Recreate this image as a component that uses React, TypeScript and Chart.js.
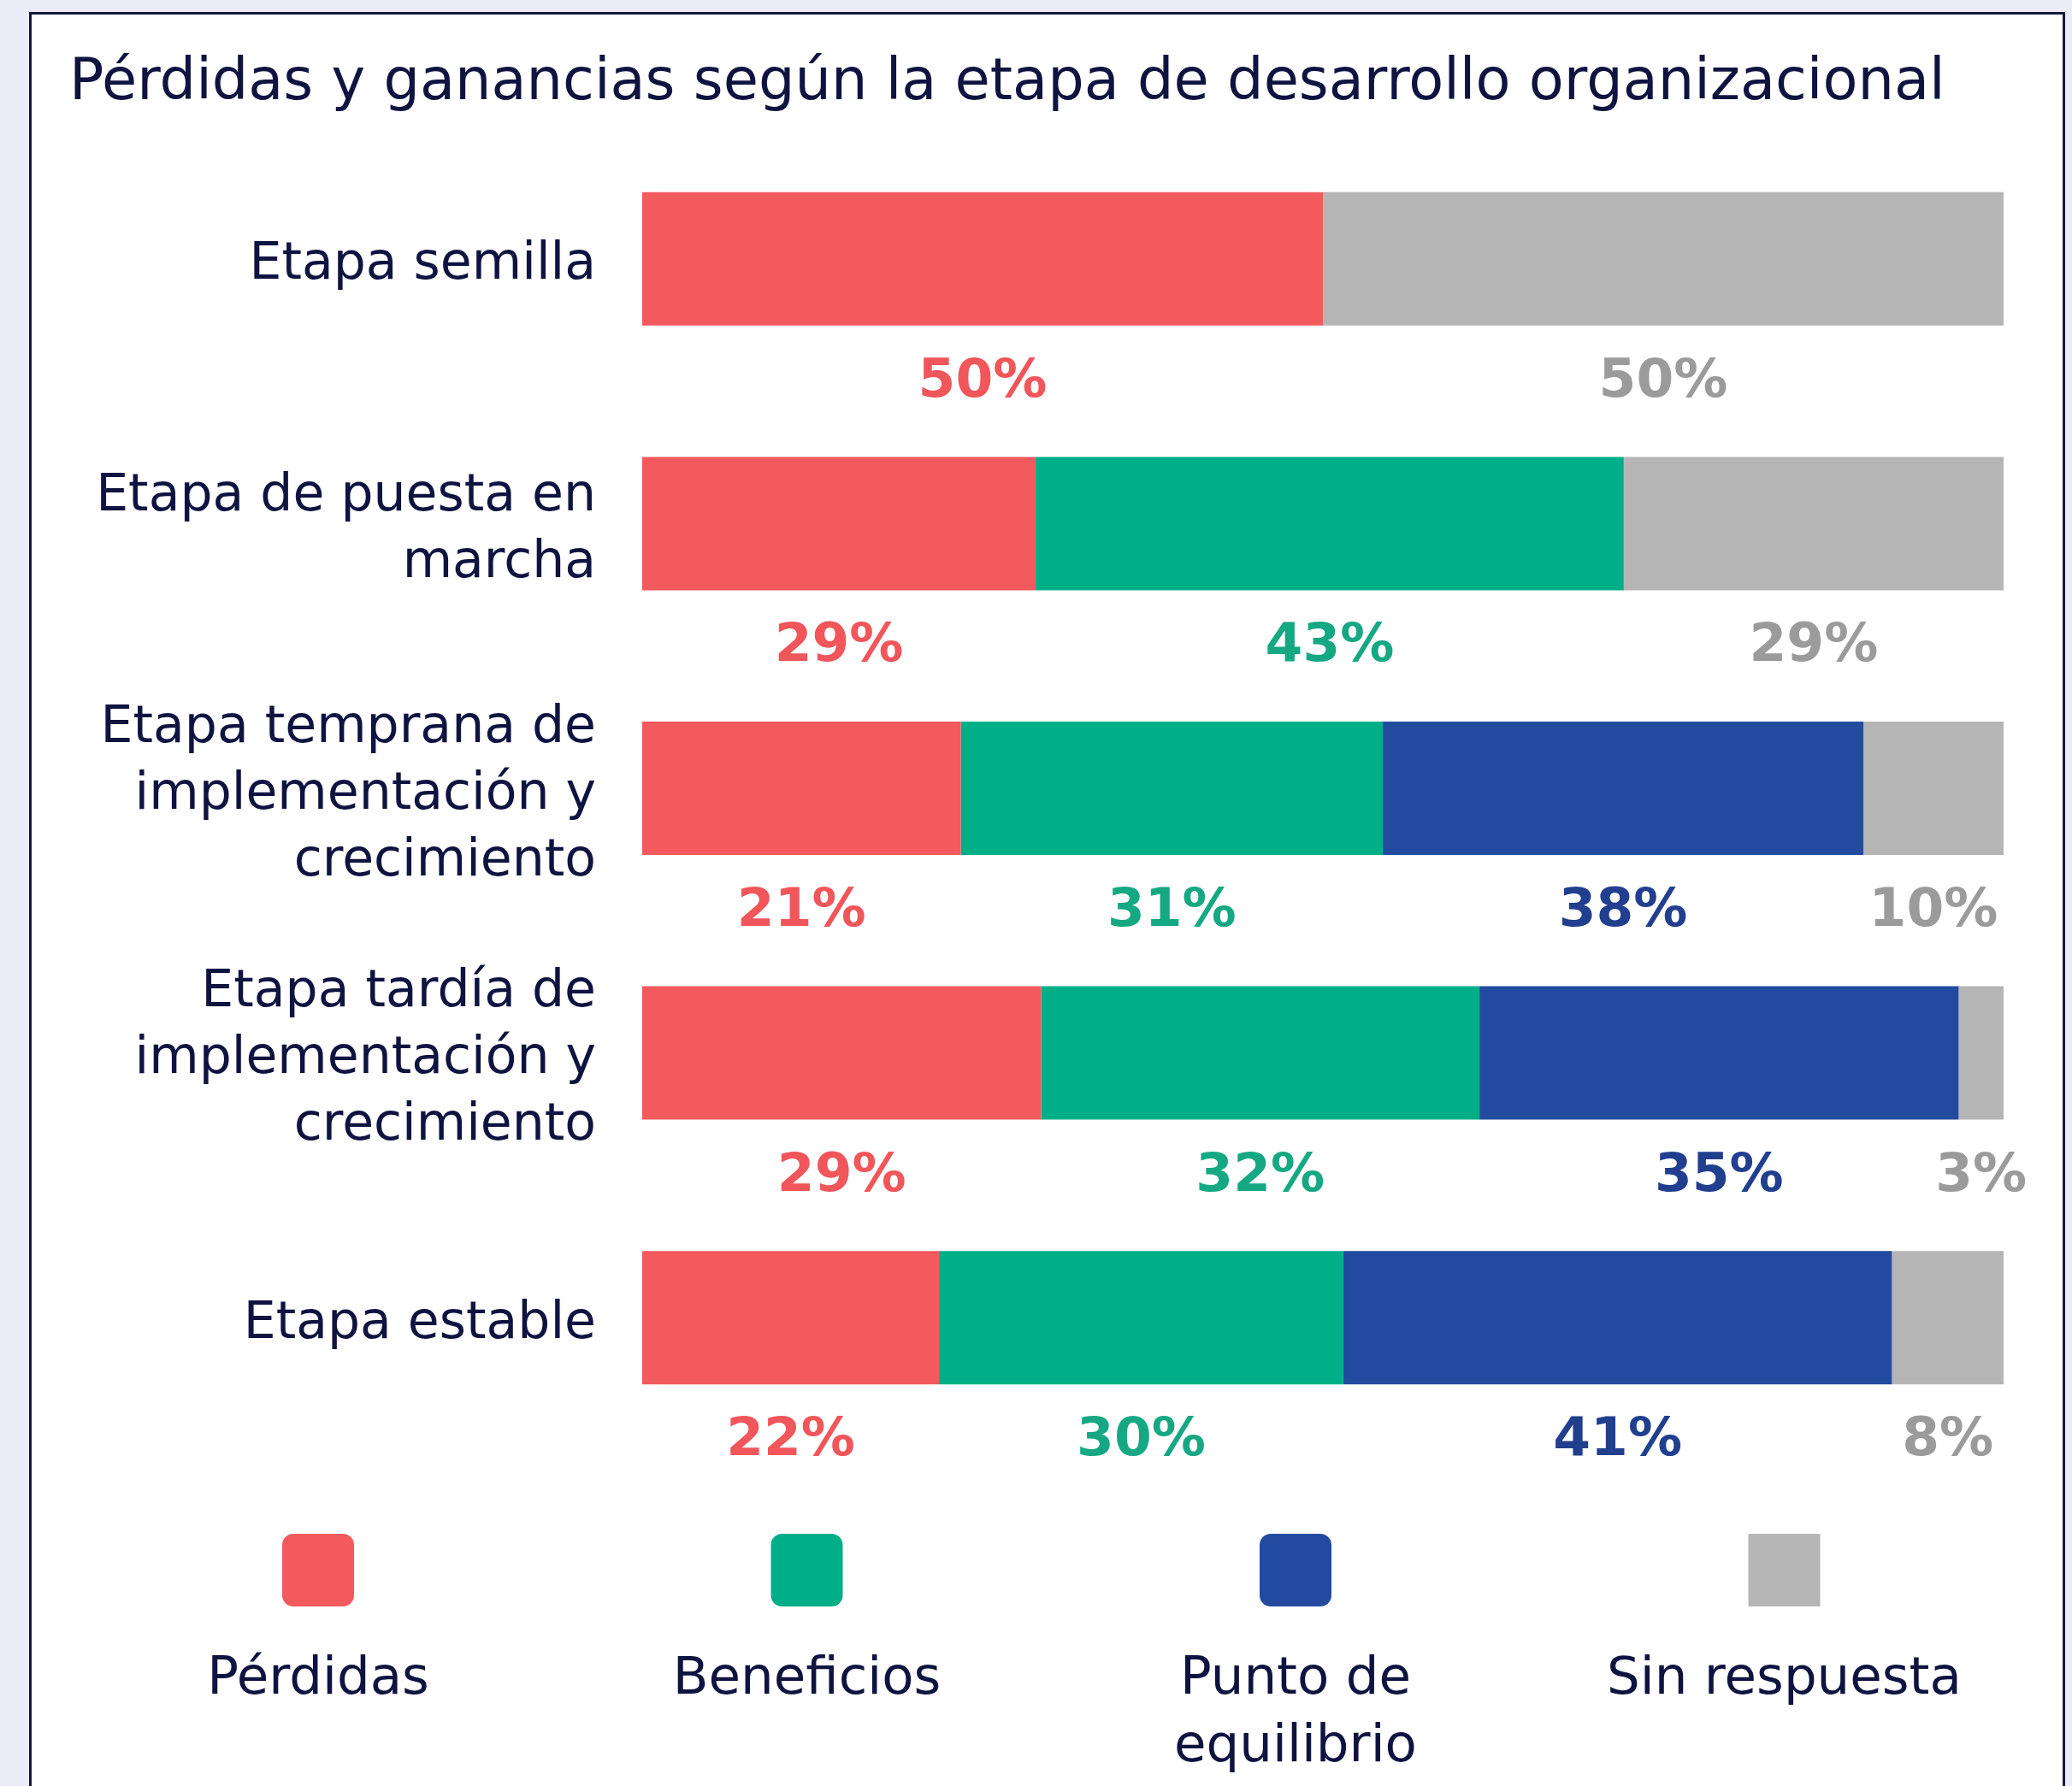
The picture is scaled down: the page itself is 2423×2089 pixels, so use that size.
import { useEffect, useRef } from 'react';
import { Chart, registerables } from 'chart.js';

Chart.register(...registerables);

// ---- data ----
const categories: string[][] = [
  ['Etapa semilla'],
  ['Etapa de puesta en', 'marcha'],
  ['Etapa temprana de', 'implementación y', 'crecimiento'],
  ['Etapa tardía de', 'implementación y', 'crecimiento'],
  ['Etapa estable'],
];
const seriesNames = ['Pérdidas', 'Beneficios', 'Punto de equilibrio', 'Sin respuesta'];
const legendLines: string[][] = [['Pérdidas'], ['Beneficios'], ['Punto de', 'equilibrio'], ['Sin respuesta']];

// bar lengths as drawn (%)
const perdidas = [50, 28.9, 23.4, 29.3, 21.8];
const beneficios = [0, 43.2, 31.0, 32.2, 29.7];
const equilibrio = [0, 0, 35.3, 35.2, 40.3];
const sinRespuesta = [50, 27.9, 10.3, 3.3, 8.2];

// printed percentages
const perdidasPct = [50, 29, 21, 29, 22];
const beneficiosPct = [null, 43, 31, 32, 30];
const equilibrioPct = [null, null, 38, 35, 41];
const sinRespuestaPct = [50, 29, 10, 3, 8];

const title = 'Pérdidas y ganancias según la etapa de desarrollo organizacional';

// ---- styles ----
const barColors = ['#F25A5E', '#00AF87', '#224BA0', '#B5B5B5'];
const labelColors = ['#F0565A', '#16A883', '#213F8E', '#9B9B9B'];
const textColor = '#0F1340';
const W = 2423;
const H = 2089;

export default function App() {
  const ref = useRef<HTMLCanvasElement | null>(null);

  useEffect(() => {
    const canvas = ref.current;
    if (!canvas) return;
    const pctSets = [perdidasPct, beneficiosPct, equilibrioPct, sinRespuestaPct];

    const decor = {
      id: 'decor',
      afterDatasetsDraw(chart: any) {
        const ctx = chart.ctx as CanvasRenderingContext2D;
        ctx.save();
        ctx.font = 'bold 63px "DejaVu Sans"';
        ctx.textAlign = 'center';
        ctx.textBaseline = 'alphabetic';
        chart.data.datasets.forEach((ds: any, di: number) => {
          const meta = chart.getDatasetMeta(di);
          meta.data.forEach((bar: any, i: number) => {
            const v = pctSets[di][i];
            if (v === null || v === undefined) return;
            const props = bar.getProps(['x', 'y', 'base', 'height'], true);
            const cx = (props.x + props.base) / 2;
            const y = props.y + props.height / 2 + 83;
            ctx.fillStyle = labelColors[di];
            ctx.fillText(v + '%', cx, y);
          });
        });
        ctx.restore();
      },
      afterDraw(chart: any) {
        const ctx = chart.ctx as CanvasRenderingContext2D;
        ctx.save();
        // title
        ctx.fillStyle = textColor;
        ctx.font = '67px "DejaVu Sans"';
        ctx.textAlign = 'left';
        ctx.textBaseline = 'alphabetic';
        ctx.fillText(title, 81, 116);

        // legend
        const boxW = 84;
        const boxH = 85;
        const boxTop = 1794;
        legendLines.forEach((lines, i) => {
          const cx = 372 + i * 571.5;
          ctx.fillStyle = barColors[i];
          ctx.beginPath();
          const r = i === 3 ? 0 : 13;
          (ctx as any).roundRect(cx - boxW / 2, boxTop, boxW, boxH, r);
          ctx.fill();
          ctx.fillStyle = textColor;
          ctx.font = '61px "DejaVu Sans"';
          ctx.textAlign = 'center';
          lines.forEach((ln, li) => {
            ctx.fillText(ln, cx, 1981 + li * 79);
          });
        });
        ctx.restore();
      },
    };

    const chart = new Chart(canvas, {
      type: 'bar',
      data: {
        labels: categories,
        datasets: [perdidas, beneficios, equilibrio, sinRespuesta].map((d, i) => ({
          label: seriesNames[i],
          data: d,
          backgroundColor: barColors[i],
          borderWidth: 0,
          barPercentage: 0.504,
          categoryPercentage: 1,
        })),
      },
      options: {
        indexAxis: 'y',
        responsive: false,
        animation: false,
        devicePixelRatio: 1,
        layout: { padding: { top: 148, bottom: 393, right: 80, left: 0 } },
        scales: {
          x: { stacked: true, min: 0, max: 100, display: false },
          y: {
            stacked: true,
            grid: { display: false, drawTicks: false },
            border: { display: false },
            ticks: {
              color: textColor,
              padding: 54,
              labelOffset: 8,
              font: { family: '"DejaVu Sans"', size: 60, lineHeight: '78px' },
            },
            afterFit: (scale: any) => {
              scale.width = 751;
            },
          },
        },
        plugins: {
          legend: { display: false },
          tooltip: { enabled: false },
          title: { display: false },
        },
      } as any,
      plugins: [decor],
    });
    return () => chart.destroy();
  }, []);

  return (
    <div
      style={{
        position: 'absolute',
        left: 0,
        top: 0,
        width: W,
        height: H,
        overflow: 'hidden',
        background: '#ECECF8',
      }}
    >
      <div
        style={{
          position: 'absolute',
          left: 34,
          top: 14,
          width: 2381,
          height: 2200,
          boxSizing: 'border-box',
          border: '3px solid #15193D',
          background: '#FFFFFF',
        }}
      />
      <canvas
        ref={ref}
        width={W}
        height={H}
        style={{ position: 'absolute', left: 0, top: 0, width: W, height: H }}
      />
    </div>
  );
}
